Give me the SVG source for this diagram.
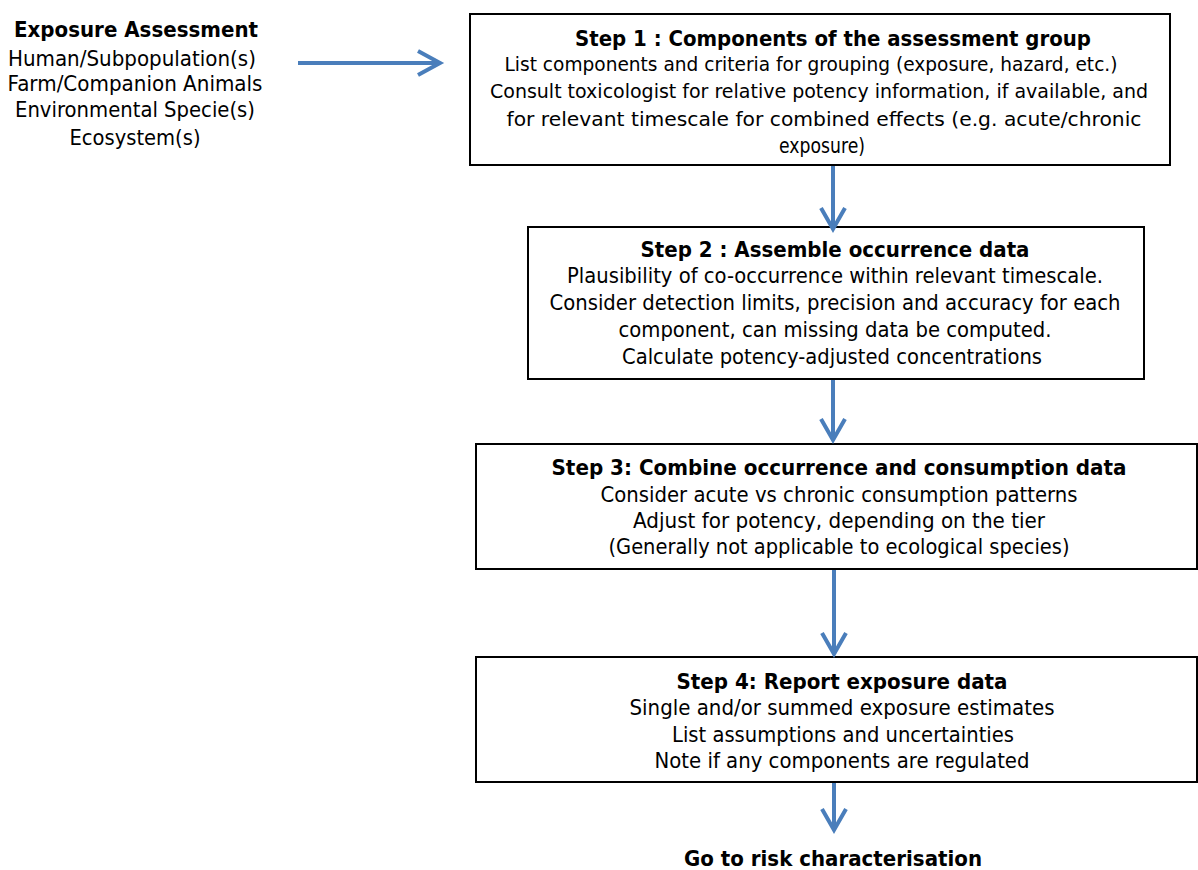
<svg xmlns="http://www.w3.org/2000/svg" width="1198" height="870" viewBox="0 0 1198 870">
<style>
text{font-family:"DejaVu Sans","Liberation Sans",sans-serif;font-size:22px;fill:#000;text-anchor:middle}
.b{font-weight:bold}
.s{font-size:20px}
.box{fill:#fff;stroke:#000;stroke-width:2}
.conn{stroke:#4A7EBB;stroke-width:4;fill:none}
.head{stroke:#4A7EBB;stroke-width:4;fill:none;stroke-linecap:butt;stroke-linejoin:miter}
</style>
<rect width="1198" height="870" fill="#fff"/>
<g id="exposure">
<text class="b" x="136" y="37" textLength="244" lengthAdjust="spacingAndGlyphs">Exposure Assessment</text>
<text x="132" y="66" textLength="248" lengthAdjust="spacingAndGlyphs">Human/Subpopulation(s)</text>
<text x="135" y="91" textLength="255" lengthAdjust="spacingAndGlyphs">Farm/Companion Animals</text>
<text x="135" y="117" textLength="240" lengthAdjust="spacingAndGlyphs">Environmental Specie(s)</text>
<text x="135" y="145" textLength="131" lengthAdjust="spacingAndGlyphs">Ecosystem(s)</text>
</g>
<g id="step1">
<rect class="box" x="470" y="14" width="700" height="151"/>
<text class="b" x="833" y="46" textLength="516" lengthAdjust="spacingAndGlyphs">Step 1 : Components of the assessment group</text>
<text class="s" x="811" y="71" textLength="613" lengthAdjust="spacingAndGlyphs">List components  and criteria for grouping (exposure, hazard, etc.)</text>
<text class="s" x="819" y="98" textLength="658" lengthAdjust="spacingAndGlyphs">Consult toxicologist for relative potency information, if available, and</text>
<text class="s" x="824" y="126" textLength="635" lengthAdjust="spacingAndGlyphs">for relevant timescale for combined effects (e.g. acute/chronic</text>
<text x="822" y="153" textLength="86" lengthAdjust="spacingAndGlyphs">exposure)</text>
</g>
<g id="step2">
<rect class="box" x="528" y="227" width="616" height="152"/>
<text class="b" x="835" y="257" textLength="389" lengthAdjust="spacingAndGlyphs">Step 2 : Assemble occurrence data</text>
<text x="835" y="283" textLength="536" lengthAdjust="spacingAndGlyphs">Plausibility of co-occurrence within relevant timescale.</text>
<text x="835" y="310" textLength="571" lengthAdjust="spacingAndGlyphs">Consider detection limits, precision and accuracy for each</text>
<text x="835" y="337" textLength="433" lengthAdjust="spacingAndGlyphs">component, can missing data be computed.</text>
<text x="832" y="364" textLength="420" lengthAdjust="spacingAndGlyphs">Calculate potency-adjusted concentrations</text>
</g>
<g id="step3">
<rect class="box" x="476" y="444" width="721" height="125"/>
<text class="b" x="839" y="475" textLength="575" lengthAdjust="spacingAndGlyphs">Step 3: Combine occurrence and consumption data</text>
<text x="839" y="502" textLength="477" lengthAdjust="spacingAndGlyphs">Consider acute vs chronic consumption patterns</text>
<text x="839" y="528" textLength="412" lengthAdjust="spacingAndGlyphs">Adjust for potency, depending on the tier</text>
<text x="839" y="554" textLength="461" lengthAdjust="spacingAndGlyphs">(Generally not applicable to ecological species)</text>
</g>
<g id="step4">
<rect class="box" x="476" y="657" width="721" height="125"/>
<text class="b" x="842" y="689" textLength="331" lengthAdjust="spacingAndGlyphs">Step 4: Report exposure data</text>
<text x="842" y="715" textLength="425" lengthAdjust="spacingAndGlyphs">Single and/or summed exposure estimates</text>
<text x="843" y="742" textLength="342" lengthAdjust="spacingAndGlyphs">List assumptions and uncertainties</text>
<text x="842" y="768" textLength="375" lengthAdjust="spacingAndGlyphs">Note if any components are regulated</text>
</g>
<g id="end">
<text class="b" x="833" y="866" textLength="298" lengthAdjust="spacingAndGlyphs" style="font-size:21px">Go to risk characterisation</text>
</g>
<g id="connectors">
<line class="conn" x1="298" y1="63" x2="439" y2="63"/>
<polyline class="head" points="418,51 440,63 418,75"/>
<line class="conn" x1="833" y1="166" x2="833" y2="227"/>
<polyline class="head" points="821,208 833,229 845,208"/>
<line class="conn" x1="833" y1="380" x2="833" y2="438"/>
<polyline class="head" points="821,419 833,440 845,419"/>
<line class="conn" x1="834" y1="570" x2="834" y2="652"/>
<polyline class="head" points="822,633 834,654 846,633"/>
<line class="conn" x1="834" y1="783" x2="834" y2="828"/>
<polyline class="head" points="822,809 834,830 846,809"/>
</g>
</svg>
